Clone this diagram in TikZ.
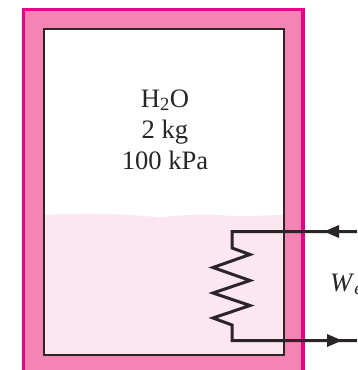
\documentclass[tikz,border=0pt]{standalone}
\usepackage{fontspec}
\setmainfont{Liberation Serif}
\usetikzlibrary{arrows.meta}
\definecolor{wallpink}{HTML}{F484B4}
\definecolor{edgepink}{HTML}{EC008C}
\definecolor{waterpink}{HTML}{FCE6F0}
\definecolor{inkline}{HTML}{2B2527}
\tikzset{
  wall/.style={fill=wallpink,draw=edgepink,line width=3.2pt},
  tank/.style={draw=inkline,line width=2pt},
  wire/.style={draw=inkline,line width=3pt,line join=miter},
  flowtip/.style={draw=none,fill=inkline},
  label/.style={inner sep=0pt,font=\fontsize{26.6}{31}\selectfont,text=black!85,align=center}
}
\begin{document}
\begin{tikzpicture}[x=1pt,y=-1pt]
\useasboundingbox (0,0) rectangle (357,370);
\clip (0,0) rectangle (357,370);
\fill[white] (0,0) rectangle (357,370);
\draw[wall] (23.5,9.5) rectangle (303,385);
\fill[white] (44,29) rectangle (284,355);
\fill[waterpink] (44,215) .. controls (80,213) and (115,213) .. (160,217.5)
  .. controls (185,214) and (215,214) .. (240,216.5)
  .. controls (255,216) and (270,215) .. (284,215) -- (284,355) -- (44,355) -- cycle;
\draw[tank] (44,29) rectangle (284,355);
\coordinate (inR) at (357,231.5);
\coordinate (outR) at (357,340.5);
\draw[wire] (inR) -- (232,231.5) -- (232,248) -- (250,254.5) -- (213,267.5) -- (250,280.5) -- (213,293) -- (250,305.5) -- (213,318) -- (232,325) -- (232,340.5) -- (outR);
\fill[flowtip] (324,231.5) -- (339,225) -- (339,238) -- cycle;
\fill[flowtip] (342,340.5) -- (327,334) -- (327,347) -- cycle;
\node[label] (txt) at (165,129.5) {H\textsubscript{2}O\\2 kg\\100 kPa};
\node[label,anchor=base west] (work) at (330,291) {\textit{W}\textsubscript{\textit{e}}};
\end{tikzpicture}
\end{document}
